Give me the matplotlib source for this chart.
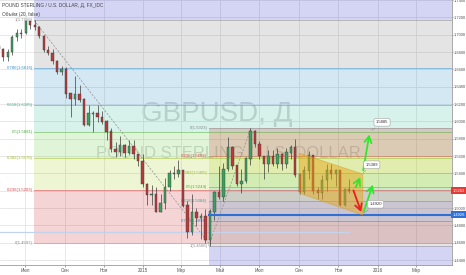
import numpy as np
import pandas as pd
import matplotlib
matplotlib.use('Agg')
import matplotlib.pyplot as plt
from matplotlib.patches import Polygon

plt.rcParams['font.family'] = ['Liberation Sans', 'DejaVu Sans']

# weekly GBPUSD candles (open = previous close)
first_open = 1.6870
week_close = [1.6830, 1.6745, 1.6795, 1.6975, 1.7010, 1.7020, 1.7155, 1.7110, 1.7085, 1.6985,
              1.6825, 1.6790, 1.6695, 1.6565, 1.6600, 1.6320, 1.6260, 1.6310, 1.6250, 1.5960,
              1.6090, 1.6090, 1.6050, 1.5995, 1.5880, 1.5680, 1.5650, 1.5720, 1.5640, 1.5710,
              1.5620, 1.5545,
              1.5275, 1.5150, 1.5160, 1.4960, 1.5060, 1.5240, 1.5400, 1.5390, 1.5430, 1.5030,
              1.4730, 1.4950, 1.4890, 1.4910, 1.4630, 1.4960, 1.5185, 1.5130, 1.5450, 1.5700,
              1.5490, 1.5280, 1.5310, 1.5570, 1.5880, 1.5740, 1.5600, 1.5510, 1.5600, 1.5510,
              1.5615, 1.5510, 1.5640, 1.5700, 1.5385, 1.5185, 1.5430, 1.5610, 1.5200, 1.5170,
              1.5320, 1.5440, 1.5390, 1.5430, 1.5040, 1.5220, 1.5203]
week_high = [1.6900, 1.6850, 1.6835, 1.6995, 1.7063, 1.7065, 1.7160, 1.7160, 1.7166, 1.7095,
             1.6995, 1.6875, 1.6835, 1.6710, 1.6640, 1.6625, 1.6325, 1.6525, 1.6415, 1.6265,
             1.6185, 1.6120, 1.6185, 1.6125, 1.6015, 1.5920, 1.5765, 1.5830, 1.5740, 1.5780,
             1.5785, 1.5620,
             1.5620, 1.5290, 1.5270, 1.5240, 1.5165, 1.5350, 1.5440, 1.5480, 1.5550, 1.5440,
             1.5080, 1.5165, 1.5000, 1.4945, 1.4990, 1.4995, 1.5200, 1.5480, 1.5520, 1.5815,
             1.5720, 1.5500, 1.5450, 1.5590, 1.5923, 1.5900, 1.5770, 1.5600, 1.5675, 1.5675,
             1.5690, 1.5640, 1.5690, 1.5725, 1.5800, 1.5410, 1.5480, 1.5660, 1.5615, 1.5240,
             1.5385, 1.5510, 1.5510, 1.5450, 1.5440, 1.5235, 1.5335]
week_low = [1.6790, 1.6695, 1.6695, 1.6770, 1.6925, 1.6960, 1.7010, 1.7060, 1.7055, 1.6960,
            1.6805, 1.6760, 1.6660, 1.6550, 1.6535, 1.6270, 1.6052, 1.6190, 1.6225, 1.5945,
            1.5950, 1.5875, 1.5995, 1.5965, 1.5790, 1.5650, 1.5590, 1.5605, 1.5590, 1.5620,
            1.5565, 1.5485,
            1.5240, 1.5035, 1.5035, 1.4950, 1.4955, 1.4990, 1.5200, 1.5330, 1.5360, 1.5015,
            1.4660, 1.4690, 1.4795, 1.4640, 1.4600, 1.4566, 1.4860, 1.5110, 1.5085, 1.5430,
            1.5455, 1.5250, 1.5170, 1.5285, 1.5500, 1.5700, 1.5570, 1.5330, 1.5420, 1.5480,
            1.5465, 1.5445, 1.5460, 1.5570, 1.5360, 1.5165, 1.5160, 1.5330, 1.5165, 1.5105,
            1.5110, 1.5200, 1.5330, 1.5250, 1.5025, 1.5030, 1.5170]
weeks = pd.date_range(end='2015-11-18', periods=len(week_close), freq='W-WED')

# fibonacci retracements
fib_ratios = [0, 0.236, 0.382, 0.5, 0.618, 0.786, 1]
fib_band_col = {0.236: '#c82828', 0.382: '#aacd1e', 0.5: '#64c83c', 0.618: '#32be96',
                0.786: '#288cc8', 1: '#787878', 1.618: '#2828c8'}
fib_text_col = {0: '#8a8a8a', 0.236: '#d24a4a', 0.382: '#9cbc2c', 0.5: '#4fb040',
                0.618: '#2fb08e', 0.786: '#3a8cc4', 1: '#8a8a8a'}
fib1_start, fib1_p0, fib1_p1 = pd.Timestamp('2014-07-15'), 1.4597, 1.7166
fib2_start, fib2_p0, fib2_p1 = pd.Timestamp('2015-04-13'), 1.5923, 1.4566
fib2_top_date = pd.Timestamp('2015-06-18')

# drawings
channel_dates = ['2015-09-01', '2015-12-09', '2015-12-09', '2015-09-01']
channel_prices = [1.5634, 1.5392, 1.4920, 1.5173]
green_arrows = [(('2015-11-26', 1.5208), ('2015-12-07', 1.5385)),
                (('2015-12-09', 1.5405), ('2015-12-20', 1.5880)),
                (('2015-12-09', 1.4925), ('2015-12-26', 1.5300))]
red_arrow = (('2015-11-23', 1.5235), ('2015-12-08', 1.4925))
callouts = [('1.5885', ('2015-12-20', 1.5880), ('2016-01-08', 1.5990)),
            ('1.5389', ('2015-12-07', 1.5390), ('2015-12-23', 1.5500)),
            ('1.4920', ('2015-12-08', 1.4925), ('2015-12-29', 1.5045))]
hline_price = 1.4926
last_price = 1.5203
volume_base = 1.4724

month_ticks = ['2014-07-01', '2014-09-01', '2014-11-01', '2015-01-01', '2015-03-01', '2015-05-01',
               '2015-07-01', '2015-09-01', '2015-11-01', '2016-01-01', '2016-03-01']
month_labels = ['Июл', 'Сен', 'Ноя', '2015', 'Мар', 'Май', 'Июл', 'Сен', 'Ноя', '2016', 'Мар']
price_ticks = [1.44, 1.46, 1.48, 1.50, 1.52, 1.54, 1.56, 1.58, 1.60, 1.62, 1.64, 1.66, 1.68, 1.70, 1.72, 1.74]

x_min, x_max = pd.Timestamp('2014-05-23'), pd.Timestamp('2016-04-26')
y_min, y_max = 1.4344, 1.7397

fig = plt.figure(figsize=(4.66, 2.75), dpi=100)
ax = fig.add_axes([0, 10 / 275, 452 / 466, 265 / 275])
ax.set_xlim(x_min, x_max)
ax.set_ylim(y_min, y_max)
ax.set_axisbelow(True)
ax.grid(True, color='#e4e4e4', lw=0.6)


def draw_fib(start, p0, p1):
    levels = fib_ratios + [1.618]
    for a, b in zip(levels[:-1], levels[1:]):
        ax.fill_between([start, x_max], p0 + a * (p1 - p0), p0 + b * (p1 - p0),
                        color=fib_band_col[b], alpha=0.2, lw=0, zorder=1)
    for r in fib_ratios:
        p = p0 + r * (p1 - p0)
        ax.plot([start, x_max], [p, p], color=fib_text_col[r], lw=0.7, alpha=0.5, zorder=1.5)
        ax.annotate(f'{r:g}({p:.4f})', xy=(start, p), xytext=(-1, 0), textcoords='offset points',
                    ha='right', va='center', fontsize=3.1, color=fib_text_col[r], zorder=2)


draw_fib(fib1_start, fib1_p0, fib1_p1)
draw_fib(fib2_start, fib2_p0, fib2_p1)
# fib trend lines
ax.plot([fib1_start, fib2_start], [fib1_p1, fib1_p0], color='#909090', lw=0.5, ls=(0, (3, 2)), zorder=1.6)
ax.plot([fib2_start, fib2_top_date], [fib2_p1, fib2_p0], color='#909090', lw=0.5, ls=(0, (3, 2)), zorder=1.6)

# watermark
ax.text(0.48, 0.57, 'GBPUSD, Д', transform=ax.transAxes, ha='center', va='center',
        fontsize=20, color='#999999', alpha=0.4, zorder=0.5)
ax.text(0.505, 0.42, 'POUND STERLING / U.S. DOLLAR', transform=ax.transAxes, ha='center',
        va='center', fontsize=12, color='#999999', alpha=0.4, zorder=0.5)

# volume baseline
ax.plot([x_min, weeks[-1]], [volume_base, volume_base], color='#c4d2ea', lw=0.9, zorder=1.7)

# candles
opens = [first_open] + week_close[:-1]
up = [c >= o for o, c in zip(opens, week_close)]
ax.vlines(weeks, week_low, week_high, color='#3c3c3c', lw=0.5, zorder=3)
ax.bar(weeks, [abs(c - o) + 0.0004 for o, c in zip(opens, week_close)], width=3.6,
       bottom=[min(o, c) for o, c in zip(opens, week_close)],
       color=['#3f9f5f' if u else '#b83a3a' for u in up], edgecolor='#3c3c3c', lw=0.3, zorder=3.1)

# horizontal ray
ax.plot([fib2_start, x_max], [hline_price, hline_price], color='#2f6fd6', lw=1.5, zorder=3.5)

# channel
chan = Polygon(list(zip(pd.to_datetime(channel_dates).map(matplotlib.dates.date2num), channel_prices)),
               closed=True, fc='#e6a817', ec='#d49a20', lw=0.6, alpha=0.5, zorder=4)
ax.add_patch(chan)

for tail, tip in green_arrows:
    ax.annotate('', xy=(pd.Timestamp(tip[0]), tip[1]), xytext=(pd.Timestamp(tail[0]), tail[1]),
                arrowprops=dict(arrowstyle='->,head_length=0.45,head_width=0.25', color='#2ee82e', lw=1.3),
                zorder=5)
tail, tip = red_arrow
ax.annotate('', xy=(pd.Timestamp(tip[0]), tip[1]), xytext=(pd.Timestamp(tail[0]), tail[1]),
            arrowprops=dict(arrowstyle='->,head_length=0.45,head_width=0.25', color='#ee1c1c', lw=1.3),
            zorder=5)

for label, anchor, box in callouts:
    ax.annotate(label, xy=(pd.Timestamp(anchor[0]), anchor[1]), xytext=(pd.Timestamp(box[0]), box[1]),
                ha='center', va='center', fontsize=3, color='#333333',
                bbox=dict(boxstyle='round,pad=0.45', fc='white', ec='#a0a0a0', lw=0.4),
                arrowprops=dict(arrowstyle='-', ls=':', color='#888888', lw=0.6), zorder=6)

# axes
ax.set_xticks(pd.to_datetime(month_ticks))
ax.set_xticklabels(month_labels)
ax.set_yticks(price_ticks)
ax.set_yticklabels([f'{p:.4f}' for p in price_ticks])
ax.yaxis.tick_right()
ax.tick_params(axis='x', labelsize=3.3, colors='#555555', length=1.2, width=0.4, pad=1)
ax.tick_params(axis='y', labelsize=2.9, colors='#555555', length=1.0, width=0.4, pad=0.3)
for side in ['top', 'left']:
    ax.spines[side].set_visible(False)
for side in ['right', 'bottom']:
    ax.spines[side].set_color('#9a9a9a')
    ax.spines[side].set_linewidth(0.6)

for p, col in [(last_price, '#e53935'), (hline_price, '#2f6fd6')]:
    ax.text(1.002, p, f'{p:.4f}', transform=ax.get_yaxis_transform(), ha='left', va='center',
            fontsize=2.9, color='white', clip_on=False, zorder=7,
            bbox=dict(boxstyle='square,pad=0.4', fc=col, ec='none'))

fig.text(0.004, 0.988, 'POUND STERLING / U.S. DOLLAR, Д, FX_IDC', fontsize=3.4, color='#444444', va='top')
fig.text(0.004, 0.955, 'Объём (20, false)', fontsize=3.4, color='#444444', va='top')

fig.savefig('out.png', dpi=100)
